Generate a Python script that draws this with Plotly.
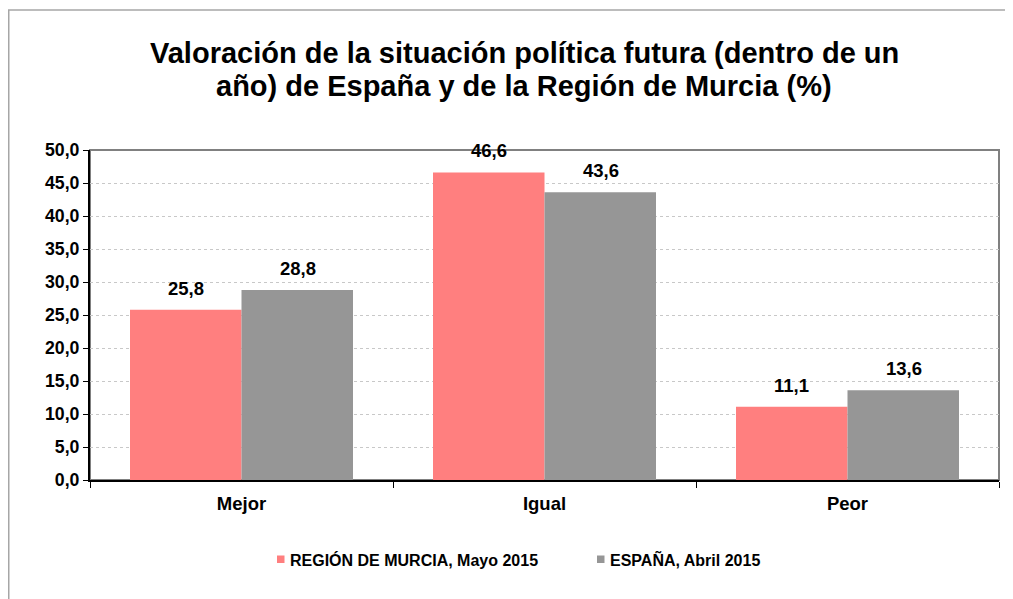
import plotly.graph_objects as go

categories = ["Mejor", "Igual", "Peor"]
murcia = [25.8, 46.6, 11.1]
espana = [28.8, 43.6, 13.6]
series_names = ["REGIÓN DE MURCIA, Mayo 2015", "ESPAÑA, Abril 2015"]
title_lines = ["Valoración de la situación política futura (dentro de un",
               "año) de España y de la Región de Murcia (%)"]

RED = "#FF7F7F"
GRAY = "#969696"
FONT = "Arial"
colors = [RED, GRAY]

fig = go.Figure()
for name, vals, col in zip(series_names, (murcia, espana), colors):
    fig.add_trace(go.Bar(x=categories, y=vals, name=name, showlegend=False,
                         marker=dict(color=col, line=dict(width=0))))

def fmt(v):
    return f"{v:.1f}".replace(".", ",")

for vals, shift in ((murcia, -56), (espana, 56)):
    for c, v in zip(categories, vals):
        fig.add_annotation(x=c, y=v, text=fmt(v), showarrow=False,
                           xshift=shift, yshift=9, yanchor="bottom",
                           font=dict(family=FONT, size=18.5, color="black", weight=700))

# page body has an 8px margin; shift all pixel geometry accordingly
OFF = 8
W, H = 1013 - OFF, 599 - OFF
L, R, T, B = 90 - OFF, 14, 150 - OFF, 119
pw = W - L - R
ph = H - T - B

def px(x):
    return (x - OFF - L) / pw

def py(y):
    return 1 - (y - OFF - T) / ph

# title: two lines with Excel-like tight spacing
for line, yc in zip(title_lines, (53, 86)):
    fig.add_annotation(xref="paper", yref="paper", x=px(524), y=py(yc),
                       xanchor="center", yanchor="middle", showarrow=False, text=line,
                       font=dict(family=FONT, size=29, color="black", weight=700))

# legend (Excel style: small square + label)
for name, col, sx in zip(series_names, colors, (277, 597)):
    fig.add_shape(type="rect", xref="paper", yref="paper",
                  x0=px(sx), x1=px(sx + 7.5), y0=py(563), y1=py(555.5),
                  fillcolor=col, line=dict(width=0))
    fig.add_annotation(xref="paper", yref="paper", x=px(sx + 10.5), y=py(559.5),
                       xanchor="left", yanchor="middle", showarrow=False, text=name,
                       font=dict(family=FONT, size=16, color="black", weight=700))

# outer chart border
fig.add_shape(type="rect", xref="paper", yref="paper",
              x0=(0.75 - L) / pw, x1=(W + 20 - L) / pw,
              y0=-(H + 20 - T - ph) / ph, y1=py(10),
              line=dict(color="#A6A6A6", width=1.5), layer="below")
# plot area border (gray top/right)
fig.add_shape(type="rect", xref="paper", yref="paper", x0=0, x1=1, y0=0, y1=1,
              line=dict(color="#808080", width=2), layer="below")

fig.update_layout(
    width=W, height=H,
    margin=dict(l=L, r=R, t=T, b=B),
    paper_bgcolor="white", plot_bgcolor="white",
    separators=",.",
    barmode="group", bargap=0.264, bargroupgap=0,
    font=dict(family=FONT, color="black", weight=700),
    showlegend=False,
)
fig.update_xaxes(range=[-0.5, 2.5], showline=True, linecolor="black", linewidth=2,
                 ticks="outside", tickson="boundaries", ticklen=6, tickcolor="black",
                 tickwidth=1, showgrid=False,
                 tickfont=dict(family=FONT, size=18.5, color="black", weight=700),
                 ticklabelstandoff=6)
fig.update_yaxes(range=[0, 50], dtick=5, tickformat=".1f", showline=True, linecolor="black",
                 linewidth=2, ticks="outside", ticklen=5, tickcolor="black",
                 showgrid=True, gridcolor="#C8C8C8", griddash="dot", gridwidth=1,
                 zeroline=False,
                 tickfont=dict(family=FONT, size=17.7, color="black", weight=700))

fig.write_html("out.html")
